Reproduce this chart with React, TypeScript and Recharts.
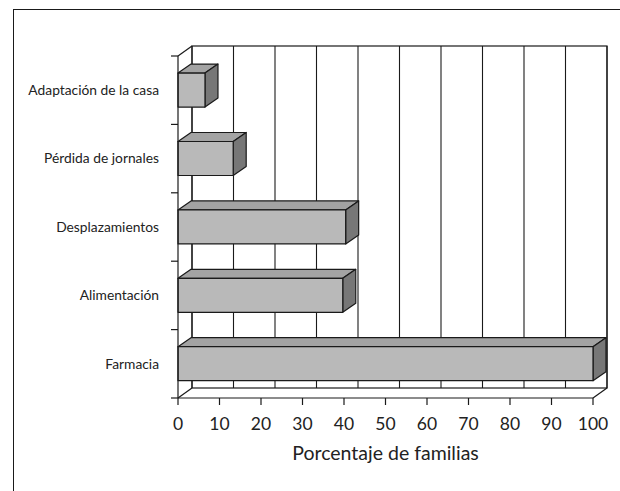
import { BarChart, Bar, XAxis, YAxis, CartesianGrid, ReferenceArea } from "recharts";

const categories = [
  "Adaptación de la casa",
  "Pérdida de jornales",
  "Desplazamientos",
  "Alimentación",
  "Farmacia",
];
const porcentajes = [6.5, 13.3, 40.4, 39.7, 100];
const xTicks = [0, 10, 20, 30, 40, 50, 60, 70, 80, 90, 100];

const data = categories.map((name, i) => ({ name, value: porcentajes[i] }));

// 3D depth offsets
const DX = 14;
const DY = -10;
const BDX = 13;
const BDY = -9;
const TICK_SIZE = 7;
const TICK_MARGIN = 12;
const INK = "#1a1a1a";
const FONT = "Lato, 'Open Sans', sans-serif";

function Bar3D(props: any) {
  const { x, y, width, height } = props;
  if (width == null || height == null) return null;
  const x2 = x + width;
  const y2 = y + height;
  return (
    <g stroke={INK} strokeWidth={1.2} strokeLinejoin="round">
      <polygon
        points={`${x},${y} ${x + BDX},${y + BDY} ${x2 + BDX},${y + BDY} ${x2},${y}`}
        fill="#a3a3a3"
      />
      <polygon
        points={`${x2},${y} ${x2 + BDX},${y + BDY} ${x2 + BDX},${y2 + BDY} ${x2},${y2}`}
        fill="#777777"
      />
      <rect x={x} y={y} width={width} height={height} fill="#b9b9b9" />
    </g>
  );
}

function Walls(props: any) {
  const { x, y, width, height } = props;
  const r = x + width;
  const b = y + height;
  return (
    <g stroke={INK} strokeWidth={1.2} fill="none">
      <rect x={x + DX} y={y + DY} width={width} height={height} />
      <line x1={x} y1={y} x2={x + DX} y2={y + DY} />
      <line x1={x} y1={b} x2={x + DX} y2={b + DY} />
      <line x1={r} y1={b} x2={r + DX} y2={b + DY} />
    </g>
  );
}

function BackGridLine(props: any) {
  const { x1, y1, x2, y2 } = props;
  return (
    <line
      x1={x1 + DX}
      y1={y1 + DY}
      x2={x2 + DX}
      y2={y2 + DY}
      stroke={INK}
      strokeWidth={1.1}
    />
  );
}

function CategoryTick(props: any) {
  const { x, y, payload, index, height, visibleTicksCount } = props;
  const band = height / visibleTicksCount;
  const axisX = x + TICK_SIZE + TICK_MARGIN;
  return (
    <g>
      <line x1={axisX - TICK_SIZE} y1={y - band / 2} x2={axisX} y2={y - band / 2} stroke={INK} strokeWidth={1.2} />
      {index === visibleTicksCount - 1 && (
        <line x1={axisX - TICK_SIZE} y1={y + band / 2} x2={axisX} y2={y + band / 2} stroke={INK} strokeWidth={1.2} />
      )}
      <text
        x={x}
        y={y}
        dy="0.35em"
        textAnchor="end"
        fontSize={13.8}
        fontFamily={FONT}
        fill="#222"
      >
        {payload.value}
      </text>
    </g>
  );
}

export default function App() {
  return (
    <div style={{ position: "absolute", left: 0, top: 0, width: 620, height: 491, background: "#fff", overflow: "hidden" }}>
      <div
        style={{
          position: "absolute",
          left: 13,
          top: 9,
          width: 640,
          height: 520,
          borderLeft: `1.5px solid ${INK}`,
          borderTop: `1.5px solid ${INK}`,
        }}
      />
      <div style={{ position: "absolute", left: 0, top: 0 }}>
        <BarChart
          width={620}
          height={491}
          data={data}
          layout="vertical"
          margin={{ top: 56, right: 27, left: 0, bottom: 0 }}
          barCategoryGap="25%"
        >
          <ReferenceArea x1={0} x2={100} shape={<Walls />} ifOverflow="visible" />
          <CartesianGrid horizontal={false} vertical={BackGridLine as any} />
          <XAxis
            type="number"
            domain={[0, 100]}
            ticks={xTicks}
            interval={0}
            height={93}
            tickSize={7}
            tickMargin={13}
            axisLine={{ stroke: INK, strokeWidth: 1.2 }}
            tickLine={{ stroke: INK, strokeWidth: 1.2 }}
            tick={{ fill: "#222", fontSize: 17.5, fontFamily: FONT }}
            label={{
              value: "Porcentaje de familias",
              position: "insideBottom",
              offset: 31,
              fill: "#222",
              fontSize: 19.5,
              fontFamily: FONT,
            }}
          />
          <YAxis
            type="category"
            dataKey="name"
            width={178}
            tickSize={TICK_SIZE}
            tickMargin={TICK_MARGIN}
            tickLine={false}
            axisLine={{ stroke: INK, strokeWidth: 1.2 }}
            tick={<CategoryTick />}
          />
          <Bar dataKey="value" shape={<Bar3D />} isAnimationActive={false} />
        </BarChart>
      </div>
    </div>
  );
}
